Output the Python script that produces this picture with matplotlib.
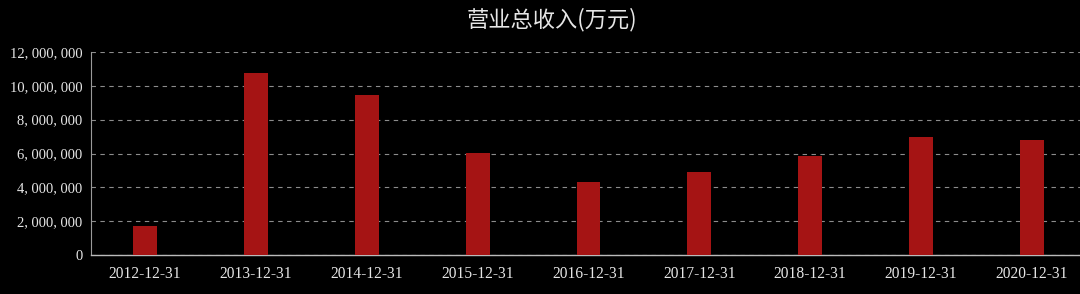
import matplotlib
matplotlib.use("Agg")
import matplotlib.pyplot as plt
from matplotlib.ticker import FuncFormatter

categories = ["2012-12-31", "2013-12-31", "2014-12-31", "2015-12-31", "2016-12-31",
              "2017-12-31", "2018-12-31", "2019-12-31", "2020-12-31"]
revenue = [1710000, 10760000, 9460000, 6030000, 4320000, 4900000, 5850000, 6980000, 6800000]
yticks = [0, 2000000, 4000000, 6000000, 8000000, 10000000, 12000000]
title = "营业总收入(万元)"

fig = plt.figure(figsize=(10.8, 2.94), dpi=100, facecolor="black")
ax = fig.add_axes([91/1080, 1 - 255/294, 1 - 91/1080, (255 - 52)/294])
ax.set_facecolor("black")

x = list(range(len(categories)))
ax.bar(x, revenue, width=0.215, color="#a51414", zorder=3)

ax.set_xlim(-0.487, 8.433)
ax.set_ylim(0, 12000000)
ax.set_yticks(yticks)
ax.yaxis.set_major_formatter(FuncFormatter(lambda v, p: f"{int(v):,}".replace(",", ", ")))
ax.set_xticks(x)
ax.set_xticklabels(categories)

for lab in ax.get_yticklabels():
    lab.set_family(["Liberation Serif", "DejaVu Serif"])
    lab.set_fontsize(10.5)
    lab.set_color("#e6e6e6")
for lab in ax.get_xticklabels():
    lab.set_family(["Liberation Serif", "DejaVu Serif"])
    lab.set_fontsize(11.2)
    lab.set_color("#e6e6e6")

ax.tick_params(axis="both", length=0, pad=6)
ax.tick_params(axis="x", pad=8)
ax.grid(axis="y", color="#8c8c8c", linestyle=(0, (4, 4)), linewidth=0.8, zorder=0)
for s in ["top", "right"]:
    ax.spines[s].set_visible(False)
ax.spines["left"].set_color("#9a9a9a")
ax.spines["bottom"].set_color("#bbbbbb")
ax.spines["left"].set_linewidth(0.8)
ax.spines["bottom"].set_linewidth(1.0)

fig.text(552/1080, 1 - 20/294, title, ha="center", va="center", color="#e6e6e6",
         fontsize=16, family=["Noto Sans CJK SC", "DejaVu Sans"])

fig.savefig("out.png", dpi=100, facecolor="black")
